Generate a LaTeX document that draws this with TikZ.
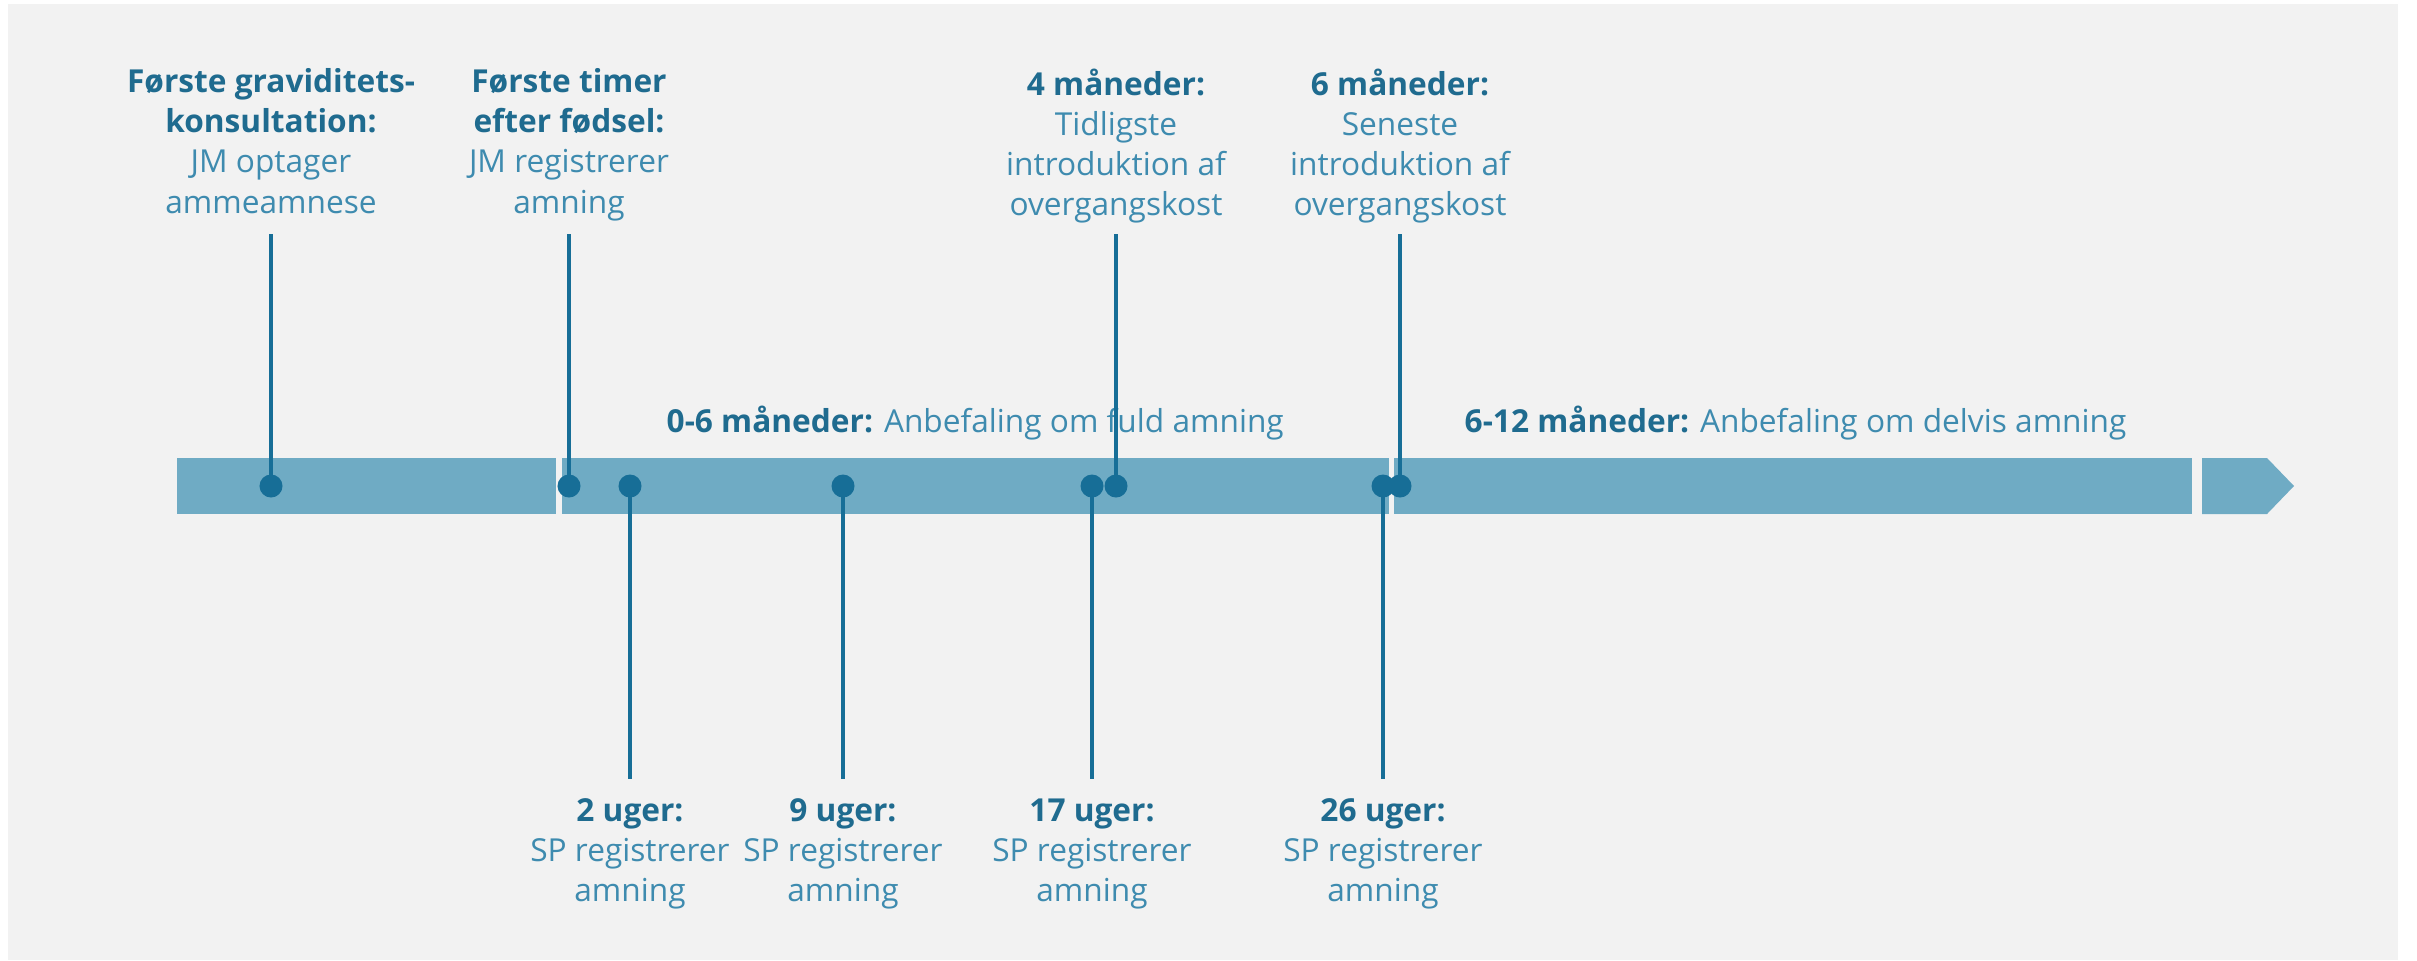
\documentclass[tikz,border=0pt]{standalone}
\usepackage{fontspec}
\setmainfont{Open Sans}
\usepackage{xcolor}

\definecolor{bggrey}{HTML}{F2F2F2}
\definecolor{barblue}{HTML}{6FABC4}
\definecolor{darkblue}{HTML}{176E97}
\definecolor{headblue}{HTML}{1F6B8F}
\definecolor{textblue}{HTML}{3E8BAF}

\tikzset{
  milestone/.style={align=center,inner sep=0pt,text=textblue,font=\fontsize{9}{11.4}\selectfont},
  period/.style={anchor=base west,inner sep=0pt,text=textblue,font=\fontsize{9}{11.4}\selectfont},
  tlpoint/.style={shape=circle,fill=darkblue,inner sep=0pt,minimum size=0.23cm},
  tlstem/.style={darkblue,line width=1.15pt}
}
\newcommand{\tlhead}[1]{{\bfseries\color{headblue}#1}}

\begin{document}
\begin{tikzpicture}[x=0.01cm,y=-0.01cm]
  \fill[white] (0,0) rectangle (2417,960);
  \fill[bggrey] (8,4) rectangle (2398,960);
  \useasboundingbox (0,0) rectangle (2417,960);

  % the time bar, in pieces
  \fill[barblue] (177,458) rectangle (556,514);
  \fill[barblue] (562,458) rectangle (1389,514);
  \fill[barblue] (1394,458) rectangle (2192,514);
  \fill[barblue] (2202,458) -- (2267,458) -- (2294,486) -- (2267,514) -- (2202,514) -- cycle;

  % periods
  \node[period] (full) at (666,432) {\tlhead{0-6 måneder:} Anbefaling om fuld amning};
  \node[period] (partial) at (1464,432) {\tlhead{6-12 måneder:} Anbefaling om delvis amning};

  % milestones above the bar
  \foreach \nm/\x/\txt in {
    gravid/271/{\tlhead{Første graviditets-}\\\tlhead{konsultation:}\\JM optager\\ammeamnese},
    birth/569/{\tlhead{Første timer}\\\tlhead{efter fødsel:}\\JM registrerer\\amning},
    fourm/1116/{\tlhead{4 måneder:}\\Tidligste\\introduktion af\\overgangskost},
    sixm/1400/{\tlhead{6 måneder:}\\Seneste\\introduktion af\\overgangskost}}
  {
    \node[milestone,anchor=north] (\nm-txt) at (\x,68) {\txt};
    \coordinate (\nm-end) at (\x,234);
    \node[tlpoint] (\nm) at (\x,486) {};
    \draw[tlstem] (\nm.center) -- (\nm-end);
  }

  % milestones below the bar
  \foreach \nm/\x/\txt in {
    twow/630/{\tlhead{2 uger:}\\SP registrerer\\amning},
    ninew/843/{\tlhead{9 uger:}\\SP registrerer\\amning},
    sevenw/1092/{\tlhead{17 uger:}\\SP registrerer\\amning},
    sixw/1383/{\tlhead{26 uger:}\\SP registrerer\\amning}}
  {
    \node[milestone,anchor=north] (\nm-txt) at (\x,798) {\txt};
    \coordinate (\nm-end) at (\x,779);
    \node[tlpoint] (\nm) at (\x,486) {};
    \draw[tlstem] (\nm.center) -- (\nm-end);
  }
\end{tikzpicture}
\end{document}
